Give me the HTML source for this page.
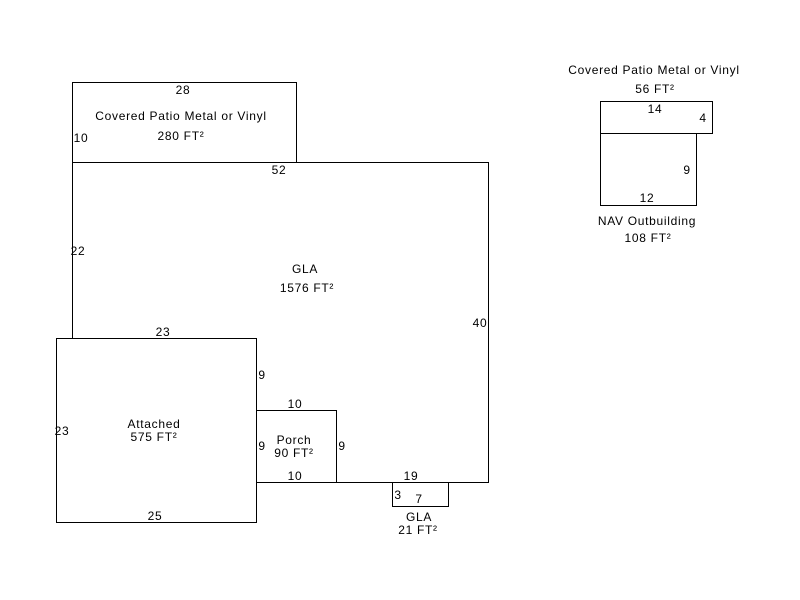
<!DOCTYPE html>
<html><head><meta charset="utf-8"><style>
html,body{margin:0;padding:0;background:#fff;}
svg{display:block;}
text{font-family:"Liberation Sans",Arial,sans-serif;font-size:12px;fill:#000;letter-spacing:0.7px;}
</style></head><body>
<svg width="800" height="600" viewBox="0 0 800 600" xmlns="http://www.w3.org/2000/svg">
<g fill="none" stroke="#000" stroke-width="1">
<rect x="72.5" y="82.5" width="224" height="80"/>
<polyline points="72.5,338.5 72.5,162.5 488.5,162.5 488.5,482.5 336.5,482.5"/>
<rect x="56.5" y="338.5" width="200" height="184"/>
<rect x="256.5" y="410.5" width="80" height="72"/>
<rect x="392.5" y="482.5" width="56" height="24"/>
<rect x="600.5" y="101.5" width="112" height="32"/>
<rect x="600.5" y="133.5" width="96" height="72"/>
</g>
<g text-anchor="middle">
<text x="183" y="94">28</text>
<text x="181" y="120">Covered Patio Metal or Vinyl</text>
<text x="181" y="140">280 FT²</text>
<text x="81" y="142">10</text>
<text x="279" y="174">52</text>
<text x="78" y="255">22</text>
<text x="305" y="273">GLA</text>
<text x="307" y="292">1576 FT²</text>
<text x="480" y="327">40</text>
<text x="163" y="336">23</text>
<text x="262" y="379">9</text>
<text x="62" y="435">23</text>
<text x="154" y="428">Attached</text>
<text x="154" y="441">575 FT²</text>
<text x="295" y="408">10</text>
<text x="294" y="444">Porch</text>
<text x="294" y="457">90 FT²</text>
<text x="262" y="450">9</text>
<text x="342" y="450">9</text>
<text x="295" y="480">10</text>
<text x="411" y="480">19</text>
<text x="398" y="499">3</text>
<text x="419" y="503">7</text>
<text x="155" y="520">25</text>
<text x="419" y="521">GLA</text>
<text x="418" y="534">21 FT²</text>
<text x="654" y="74">Covered Patio Metal or Vinyl</text>
<text x="655" y="93">56 FT²</text>
<text x="655" y="113">14</text>
<text x="703" y="122">4</text>
<text x="687" y="174">9</text>
<text x="647" y="202">12</text>
<text x="647" y="225">NAV Outbuilding</text>
<text x="648" y="242">108 FT²</text>
</g>
</svg>
</body></html>
